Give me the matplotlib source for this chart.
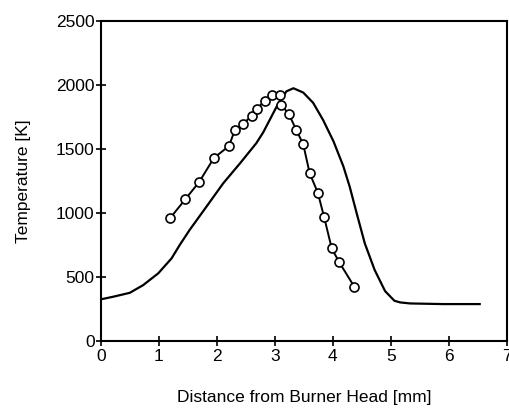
import matplotlib
matplotlib.use("Agg")
import matplotlib.pyplot as plt

plt.rcParams['font.family'] = ['Liberation Sans', 'DejaVu Sans']

# model curve
model_x = [0.0, 0.21, 0.5, 0.73, 0.99, 1.22, 1.36, 1.53, 1.82, 2.11, 2.40, 2.68,
           2.80, 3.03, 3.20, 3.32, 3.49, 3.66, 3.83, 4.01, 4.18, 4.29, 4.41,
           4.55, 4.72, 4.90, 5.06, 5.16, 5.33, 5.90, 6.53]
model_t = [326, 346, 377, 437, 529, 646, 750, 867, 1049, 1232, 1388, 1545,
           1630, 1830, 1950, 1974, 1940, 1860, 1727, 1560, 1365, 1205, 998,
           763, 555, 390, 315, 302, 294, 289, 289]

# measured points
meas_x = [1.20, 1.46, 1.70, 1.95, 2.21, 2.31, 2.45, 2.60, 2.69, 2.83, 2.95,
          3.09, 3.11, 3.24, 3.37, 3.49, 3.60, 3.74, 3.85, 3.98, 4.11, 4.37]
meas_t = [963, 1109, 1245, 1430, 1523, 1648, 1695, 1758, 1815, 1877, 1924,
          1920, 1844, 1773, 1648, 1535, 1310, 1159, 966, 724, 615, 424]

fig = plt.figure(figsize=(5.09, 4.09), dpi=100)
ax = fig.add_axes([0.198, 0.166, 0.798, 0.783])

ax.plot(model_x, model_t, color='black', lw=1.6, solid_joinstyle='round')
ax.plot(meas_x, meas_t, color='black', lw=1.4, marker='o', ms=6.5,
        mfc='white', mec='black', mew=1.2)

ax.set_xlim(0, 7)
ax.set_ylim(0, 2500)
ax.set_xticks(range(0, 8))
ax.set_yticks(range(0, 2501, 500))

for s in ax.spines.values():
    s.set_linewidth(1.5)
ax.tick_params(direction='inout', length=7, width=1.2, labelsize=12.5, pad=2)
ax.tick_params(axis='y', pad=1)

ax.set_xlabel('Distance from Burner Head [mm]', fontsize=12.5, va='center')
ax.set_ylabel('Temperature [K]', fontsize=12.5, va='center')
ax.xaxis.set_label_coords(0.5, -0.175)
ax.yaxis.set_label_coords(-0.19, 0.5)

fig.savefig('out.png', dpi=100)
